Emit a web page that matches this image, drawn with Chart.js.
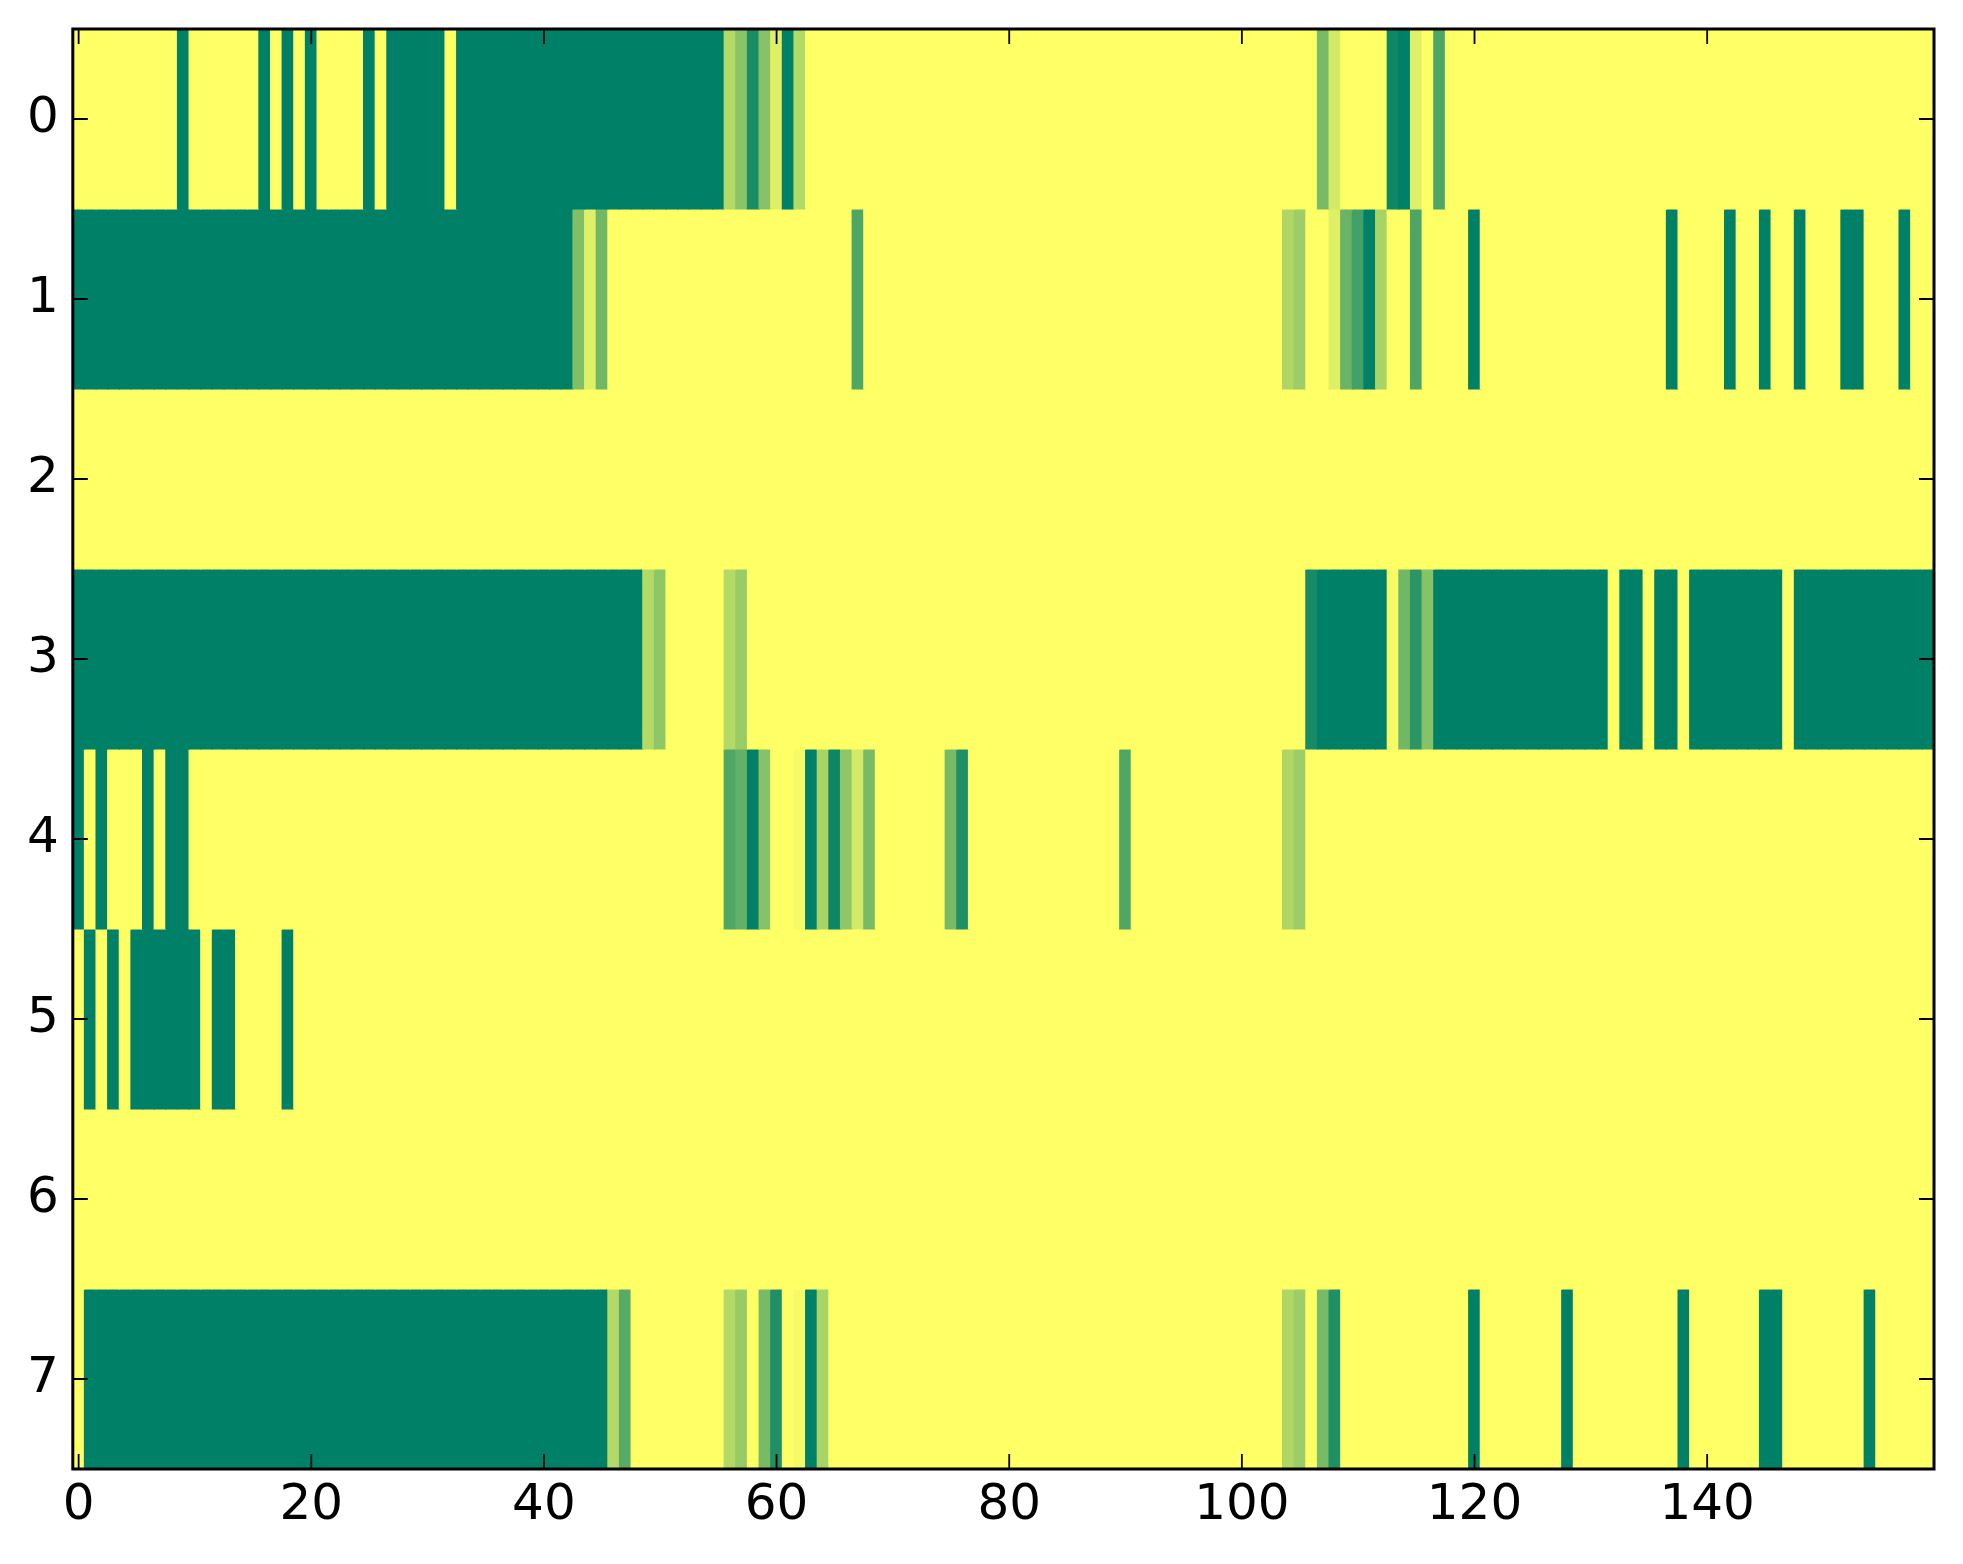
<!DOCTYPE html>
<html>
<head>
<meta charset="utf-8">
<script src="https://cdn.jsdelivr.net/npm/chart.js@4.4.1/dist/chart.umd.min.js"></script>
<style>
  html, body { margin: 0; padding: 0; background: #fff; }
  #wrap { width: 1963px; height: 1564px; }
</style>
</head>
<body>
<div id="wrap"><canvas id="heat"></canvas></div>
<script>
// one array per image row, 160 cells each (0 = green, 1 = yellow)
const row0 = [
  1,1,1,1,1,1,1,1,1,0, 1,1,1,1,1,1,0,1,0,1,
  0,1,1,1,1,0,1,0,0,0, 0,0,1,0,0,0,0,0,0,0,
  0,0,0,0,0,0,0,0,0,0, 0,0,0,0,0,0,0.7,0.54,0.1,0.53,
  0.88,0,0.7,1,1,1,1,1,1,1, 1,1,1,1,1,1,1,1,1,1,
  1,1,1,1,1,1,1,1,1,1, 1,1,1,1,1,1,1,1,1,1,
  1,1,1,1,1,1,1,0.47,0.83,1, 1,1,1,0.06,0,0.88,1,0.3,1,1,
  1,1,1,1,1,1,1,1,1,1, 1,1,1,1,1,1,1,1,1,1,
  1,1,1,1,1,1,1,1,1,1, 1,1,1,1,1,1,1,1,1,1
];
const row1 = [
  0,0,0,0,0,0,0,0,0,0, 0,0,0,0,0,0,0,0,0,0,
  0,0,0,0,0,0,0,0,0,0, 0,0,0,0,0,0,0,0,0,0,
  0,0,0,0.5,0.88,0.44,1,1,1,1, 1,1,1,1,1,1,1,1,1,1,
  1,1,1,1,1,1,1,0.31,1,1, 1,1,1,1,1,1,1,1,1,1,
  1,1,1,1,1,1,1,1,1,1, 1,1,1,1,1,1,1,1,1,1,
  1,1,1,1,0.69,0.61,1,1,0.88,0.41, 0.26,0,0.66,1,1,0.3,1,1,1,1,
  0,1,1,1,1,1,1,1,1,1, 1,1,1,1,1,1,1,0,1,1,
  1,1,0,1,1,0,1,1,0,1, 1,1,0,0,1,1,1,0,1,1
];
const row2 = [
  1,1,1,1,1,1,1,1,1,1, 1,1,1,1,1,1,1,1,1,1,
  1,1,1,1,1,1,1,1,1,1, 1,1,1,1,1,1,1,1,1,1,
  1,1,1,1,1,1,1,1,1,1, 1,1,1,1,1,1,1,1,1,1,
  1,1,1,1,1,1,1,1,1,1, 1,1,1,1,1,1,1,1,1,1,
  1,1,1,1,1,1,1,1,1,1, 1,1,1,1,1,1,1,1,1,1,
  1,1,1,1,1,1,1,1,1,1, 1,1,1,1,1,1,1,1,1,1,
  1,1,1,1,1,1,1,1,1,1, 1,1,1,1,1,1,1,1,1,1,
  1,1,1,1,1,1,1,1,1,1, 1,1,1,1,1,1,1,1,1,1
];
const row3 = [
  0,0,0,0,0,0,0,0,0,0, 0,0,0,0,0,0,0,0,0,0,
  0,0,0,0,0,0,0,0,0,0, 0,0,0,0,0,0,0,0,0,0,
  0,0,0,0,0,0,0,0,0,0.7, 0.56,1,1,1,1,1,0.7,0.6,1,1,
  1,1,1,1,1,1,1,1,1,1, 1,1,1,1,1,1,1,1,1,1,
  1,1,1,1,1,1,1,1,1,1, 1,1,1,1,1,1,1,1,1,1,
  1,1,1,1,1,1,0.09,0,0,0, 0,0,0,0.96,0.44,0.17,0.53,0,0,0,
  0,0,0,0,0,0,0,0,0,0, 0,0,1,0,0,1,0,0,1,0,
  0,0,0,0,0,0,0,1,0,0, 0,0,0,0,0,0,0,0,0,0
];
const row4 = [
  0,1,0,1,1,1,0,1,0,0, 1,1,1,1,1,1,1,1,1,1,
  1,1,1,1,1,1,1,1,1,1, 1,1,1,1,1,1,1,1,1,1,
  1,1,1,1,1,1,1,1,1,1, 1,1,1,1,1,1,0.31,0.39,0,0.53,
  1,1,0.96,0,0.66,0.05,0.56,0.83,0.47,1, 1,1,1,1,1,0.47,0.12,1,1,1,
  1,1,1,1,1,1,1,1,1,1, 0.31,1,1,1,1,1,1,1,1,1,
  1,1,1,1,0.69,0.61,1,1,1,1, 1,1,1,1,1,1,1,1,1,1,
  1,1,1,1,1,1,1,1,1,1, 1,1,1,1,1,1,1,1,1,1,
  1,1,1,1,1,1,1,1,1,1, 1,1,1,1,1,1,1,1,1,1
];
const row5 = [
  1,0,1,0,1,0,0,0,0,0, 0,1,0,0,1,1,1,1,0,1,
  1,1,1,1,1,1,1,1,1,1, 1,1,1,1,1,1,1,1,1,1,
  1,1,1,1,1,1,1,1,1,1, 1,1,1,1,1,1,1,1,1,1,
  1,1,1,1,1,1,1,1,1,1, 1,1,1,1,1,1,1,1,1,1,
  1,1,1,1,1,1,1,1,1,1, 1,1,1,1,1,1,1,1,1,1,
  1,1,1,1,1,1,1,1,1,1, 1,1,1,1,1,1,1,1,1,1,
  1,1,1,1,1,1,1,1,1,1, 1,1,1,1,1,1,1,1,1,1,
  1,1,1,1,1,1,1,1,1,1, 1,1,1,1,1,1,1,1,1,1
];
const row6 = [
  1,1,1,1,1,1,1,1,1,1, 1,1,1,1,1,1,1,1,1,1,
  1,1,1,1,1,1,1,1,1,1, 1,1,1,1,1,1,1,1,1,1,
  1,1,1,1,1,1,1,1,1,1, 1,1,1,1,1,1,1,1,1,1,
  1,1,1,1,1,1,1,1,1,1, 1,1,1,1,1,1,1,1,1,1,
  1,1,1,1,1,1,1,1,1,1, 1,1,1,1,1,1,1,1,1,1,
  1,1,1,1,1,1,1,1,1,1, 1,1,1,1,1,1,1,1,1,1,
  1,1,1,1,1,1,1,1,1,1, 1,1,1,1,1,1,1,1,1,1,
  1,1,1,1,1,1,1,1,1,1, 1,1,1,1,1,1,1,1,1,1
];
const row7 = [
  1,0,0,0,0,0,0,0,0,0, 0,0,0,0,0,0,0,0,0,0,
  0,0,0,0,0,0,0,0,0,0, 0,0,0,0,0,0,0,0,0,0,
  0,0,0,0,0,0,0.7,0.34,1,1, 1,1,1,1,1,1,0.7,0.59,1,0.47,
  0.12,1,0.96,0,0.66,1,1,1,1,1, 1,1,1,1,1,1,1,1,1,1,
  1,1,1,1,1,1,1,1,1,1, 1,1,1,1,1,1,1,1,1,1,
  1,1,1,1,0.69,0.61,1,0.47,0.12,1, 1,1,1,1,1,1,1,1,1,1,
  0,1,1,1,1,1,1,1,0,1, 1,1,1,1,1,1,1,1,0,1,
  1,1,1,1,1,0,0,1,1,1, 1,1,1,1,0,1,1,1,1,1
];

const rows = [row0, row1, row2, row3, row4, row5, row6, row7];
const yTicks = [0, 1, 2, 3, 4, 5, 6, 7];
const xTicks = [0, 20, 40, 60, 80, 100, 120, 140];

const nCols = row0.length;
const nRows = rows.length;

// matplotlib "summer" colormap
function summer(v) {
  const r = Math.round(255 * v);
  const g = Math.round(255 * (0.5 + 0.5 * v));
  return `rgb(${r},${g},102)`;
}

const datasets = rows.map((vals, r) => ({
  label: 'row ' + r,
  data: vals.map((v, c) => ({ x: c, y: [r - 0.5, r + 0.5], v: v })),
  backgroundColor: ctx => (ctx.raw ? summer(ctx.raw.v) : summer(1)),
  borderWidth: 0,
  inflateAmount: 0.6,
  barPercentage: 1,
  categoryPercentage: 1,
  grouped: false
}));

// black frame + inward tick marks like the matplotlib original
const frame = {
  id: 'frame',
  afterDatasetsDraw(chart) {
    const { ctx, chartArea: a, scales } = chart;
    const tl = 15;
    ctx.save();
    ctx.strokeStyle = '#000';
    ctx.lineWidth = 1.8;
    ctx.beginPath();
    xTicks.forEach(v => {
      const px = scales.x.getPixelForValue(v);
      ctx.moveTo(px, a.bottom); ctx.lineTo(px, a.bottom - tl);
      ctx.moveTo(px, a.top); ctx.lineTo(px, a.top + tl);
    });
    yTicks.forEach(v => {
      const py = scales.y.getPixelForValue(v);
      ctx.moveTo(a.left, py); ctx.lineTo(a.left + tl, py);
      ctx.moveTo(a.right, py); ctx.lineTo(a.right - tl, py);
    });
    ctx.stroke();
    ctx.lineWidth = 3;
    ctx.strokeRect(a.left, a.top, a.right - a.left, a.bottom - a.top);
    ctx.restore();
  }
};

const tickFont = { family: 'DejaVu Sans', size: 50 };
// drop the extra room Chart.js reserves for edge labels
const noEdgePad = s => { s.paddingTop = 0; s.paddingBottom = 0; s.paddingLeft = 0; s.paddingRight = 0; };

new Chart(document.getElementById('heat'), {
  type: 'bar',
  data: { datasets: datasets },
  options: {
    responsive: true,
    maintainAspectRatio: false,
    devicePixelRatio: 1,
    animation: false,
    layout: { padding: { left: 13, top: 29, right: 29, bottom: 21 } },
    plugins: {
      legend: { display: false },
      tooltip: { enabled: false }
    },
    scales: {
      x: {
        type: 'linear',
        min: -0.5,
        max: nCols - 0.5,
        offset: false,
        afterBuildTicks: s => { s.ticks = xTicks.map(v => ({ value: v })); },
        afterFit: noEdgePad,
        ticks: { font: tickFont, color: '#000', padding: 7, maxRotation: 0, autoSkip: false },
        grid: { display: false, drawTicks: false },
        border: { display: false }
      },
      y: {
        type: 'linear',
        reverse: true,
        min: -0.5,
        max: nRows - 0.5,
        afterBuildTicks: s => { s.ticks = yTicks.map(v => ({ value: v })); },
        afterFit: noEdgePad,
        ticks: { font: tickFont, color: '#000', padding: 14, autoSkip: false },
        grid: { display: false, drawTicks: false },
        border: { display: false }
      }
    }
  },
  plugins: [frame]
});
</script>
</body>
</html>
